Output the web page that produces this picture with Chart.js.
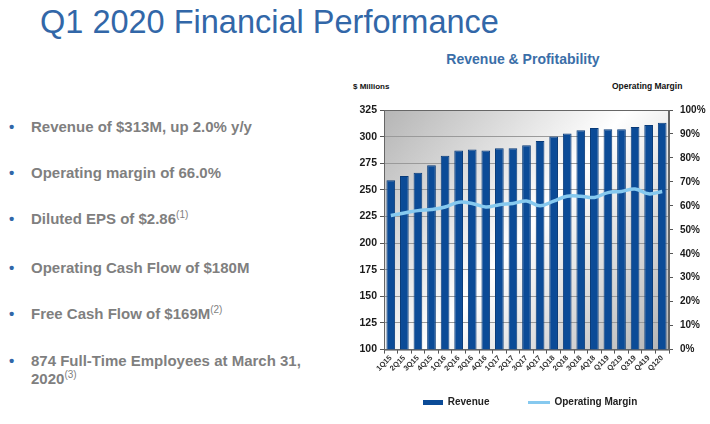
<!DOCTYPE html>
<html>
<head>
<meta charset="utf-8">
<script src="https://cdn.jsdelivr.net/npm/chart.js@4.4.1/dist/chart.umd.min.js"></script>
<style>
  body { margin: 0; width: 710px; height: 424px; background: #fff; position: relative; overflow: hidden;
         font-family: "Liberation Sans", Arial, sans-serif; }
  .title { position: absolute; left: 40px; top: 6px; font-size: 32.5px; line-height: 32px; color: #3267a8; white-space: nowrap; }
  .item { position: absolute; left: 0; width: 340px; font-size: 15px; line-height: 18px; font-weight: bold; color: #7f7f7f; }
  .item .dot { position: absolute; left: 9px; top: 0; color: #3267a8; }
  .item .txt { position: absolute; left: 31px; top: 0; white-space: nowrap; }
  .item sup { font-size: 10px; font-weight: normal; vertical-align: baseline; position: relative; top: -6px; }
  .chartTitle { position: absolute; left: 423px; width: 200px; top: 51px; text-align: center; font-size: 14px; font-weight: bold; color: #3a6ea8; white-space: nowrap; }
  .axisNote { position: absolute; top: 81px; font-size: 8.5px; font-weight: bold; color: #111; white-space: nowrap; }
  #chart { position: absolute; left: 350px; top: 75px; }
</style>
</head>
<body>
<div class="title">Q1 2020 Financial Performance</div>

<div class="item" style="top:118px"><span class="dot">•</span><span class="txt">Revenue of $313M, up 2.0% y/y</span></div>
<div class="item" style="top:164px"><span class="dot">•</span><span class="txt">Operating margin of 66.0%</span></div>
<div class="item" style="top:210px"><span class="dot">•</span><span class="txt">Diluted EPS of $2.86<sup>(1)</sup></span></div>
<div class="item" style="top:259px"><span class="dot">•</span><span class="txt">Operating Cash Flow of $180M</span></div>
<div class="item" style="top:305px"><span class="dot">•</span><span class="txt">Free Cash Flow of $169M<sup>(2)</sup></span></div>
<div class="item" style="top:352px"><span class="dot">•</span><span class="txt">874 Full-Time Employees at March 31,<br>2020<sup>(3)</sup></span></div>

<div class="chartTitle">Revenue &amp; Profitability</div>
<div class="axisNote" style="left:353px; font-size:8px; top:81.5px">$ Millions</div>
<div class="axisNote" style="left:612px">Operating Margin</div>

<canvas id="chart" width="360" height="349"></canvas>

<script>
const quarters = ["1Q15", "2Q15", "3Q15", "4Q15", "1Q16", "2Q16", "3Q16", "4Q16", "1Q17", "2Q17", "3Q17",
  "4Q17", "1Q18", "2Q18", "3Q18", "4Q18", "Q119", "Q219", "Q319", "Q419", "Q120"];
const revenue = [259, 263, 266, 273, 282, 287, 288, 287, 289, 289, 292,
  296, 300, 303, 306, 308, 307, 307, 309, 311, 313];
const operatingMargin = [56, 57, 58, 58.5, 59.5, 61.5, 61, 59.5, 60.5, 61, 62,
  60, 62, 64, 64, 63.5, 65.5, 66, 67, 65, 66];
const revenueTicks = [100, 125, 150, 175, 200, 225, 250, 275, 300, 325];
const marginTicks = [0, 10, 20, 30, 40, 50, 60, 70, 80, 90, 100];

const barBlue = "#0b4b97";
const lineBlue = "#86c9ef";

// little swatches for the legend (wide bar, thin line)
function swatch(w, h, color) {
  const c = document.createElement("canvas");
  c.width = w;
  c.height = h;
  const g = c.getContext("2d");
  g.fillStyle = color;
  g.fillRect(0, 0, w, h);
  return c;
}
const legendMarks = [swatch(20, 5, barBlue), swatch(22, 3, lineBlue)];

// grey-white-grey diagonal shading behind the plot + dark frame
const plotBackground = {
  id: "plotBackground",
  afterLayout(chart) {
    // x axis box is kept short so the legend sits low; let its rotated labels spill below it
    chart.scales.x.bottom = chart.height;
  },
  beforeDraw(chart) {
    const { ctx, chartArea: a } = chart;
    const grad = ctx.createLinearGradient(a.left, a.top, a.right, a.bottom);
    grad.addColorStop(0, "#b5b5b5");
    grad.addColorStop(0.5, "#ffffff");
    grad.addColorStop(1, "#b3b3b3");
    ctx.save();
    ctx.fillStyle = grad;
    ctx.fillRect(a.left, a.top, a.right - a.left, a.bottom - a.top);
    ctx.restore();
  },
  afterDatasetsDraw(chart) {
    const { ctx, chartArea: a } = chart;
    ctx.save();
    ctx.strokeStyle = "#666";
    ctx.lineWidth = 1;
    ctx.strokeRect(a.left + 0.5, a.top + 0.5, a.right - a.left - 1, a.bottom - a.top);
    ctx.restore();
  },
};

const tickFont = { family: "'Liberation Sans', Arial, sans-serif", size: 10.5, weight: "bold" };

new Chart(document.getElementById("chart"), {
  type: "bar",
  data: {
    labels: quarters,
    datasets: [
      {
        label: "Revenue",
        data: revenue,
        backgroundColor: barBlue,
        borderColor: "#083a78",
        borderWidth: 1,
        barPercentage: 0.64,
        categoryPercentage: 1,
        yAxisID: "y",
        order: 2,
      },
      {
        type: "line",
        label: "Operating Margin",
        data: operatingMargin,
        borderColor: lineBlue,
        backgroundColor: lineBlue,
        borderWidth: 3.5,
        tension: 0.4,
        pointRadius: 0,
        yAxisID: "y1",
        order: 1,
      },
    ],
  },
  options: {
    responsive: false,
    animation: false,
    layout: { padding: { top: 35, left: 0, right: 0, bottom: 6.4 } },
    plugins: {
      tooltip: { enabled: false },
      legend: {
        position: "bottom",
        labels: {
          usePointStyle: true,
          pointStyleWidth: 20,
          padding: 40,
          color: "#222",
          font: { family: "'Liberation Sans', Arial, sans-serif", size: 10, weight: "bold" },
          sort: (a, b) => a.datasetIndex - b.datasetIndex,
          generateLabels(chart) {
            const items = Chart.defaults.plugins.legend.labels.generateLabels(chart);
            items.forEach((it) => { it.pointStyle = legendMarks[it.datasetIndex]; });
            return items;
          },
        },
      },
    },
    scales: {
      x: {
        afterFit: (axis) => { axis.height = 8; },
        grid: { drawOnChartArea: false, tickLength: 4, tickColor: "#555", offset: true },
        border: { color: "#666" },
        ticks: {
          autoSkip: false,
          minRotation: 45,
          maxRotation: 45,
          padding: 0,
          color: "#333",
          font: { family: "'Liberation Sans', Arial, sans-serif", size: 7.5, weight: "bold" },
        },
      },
      y: {
        position: "left",
        min: revenueTicks[0],
        max: revenueTicks[revenueTicks.length - 1],
        afterBuildTicks: (axis) => { axis.ticks = revenueTicks.map((v) => ({ value: v })); },
        afterFit: (axis) => { axis.width = 34; },
        grid: { color: "#9a9a9a", tickLength: 4, tickColor: "#555" },
        border: { color: "#666" },
        ticks: { color: "#1a1a1a", padding: 3, font: tickFont },
      },
      y1: {
        position: "right",
        min: marginTicks[0],
        max: marginTicks[marginTicks.length - 1],
        afterBuildTicks: (axis) => { axis.ticks = marginTicks.map((v) => ({ value: v })); },
        afterFit: (axis) => { axis.width = 41; },
        grid: { drawOnChartArea: false, tickLength: 4, tickColor: "#555" },
        border: { color: "#666" },
        ticks: { color: "#1a1a1a", padding: 7, font: { ...tickFont, size: 10 }, callback: (v) => v + "%" },
      },
    },
  },
  plugins: [plotBackground],
});
</script>
</body>
</html>
